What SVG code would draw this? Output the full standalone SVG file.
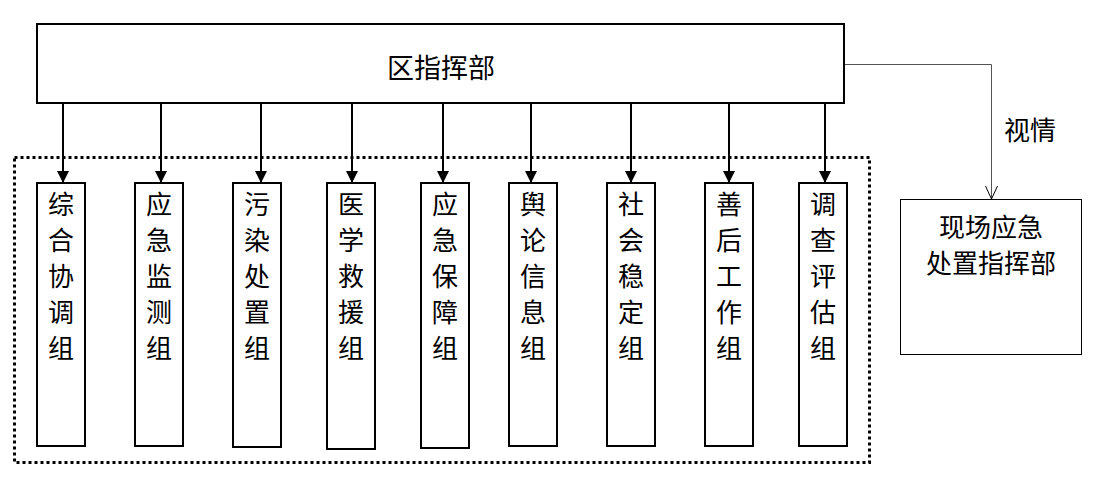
<svg xmlns="http://www.w3.org/2000/svg" width="1100" height="477" viewBox="0 0 1100 477">
<style>
.box{fill:#fff;stroke:#000;stroke-width:2}
.t{font-family:"Noto Sans CJK SC","Noto Sans",sans-serif;font-size:26px;fill:#000;text-anchor:middle}
.arr{stroke:#000;stroke-width:2;fill:none}
</style>
<defs>
<marker id="ah" markerWidth="12" markerHeight="12" refX="11" refY="6" orient="auto" markerUnits="userSpaceOnUse">
<path d="M0,0 L12,6 L0,12 Z" fill="#000"/>
</marker>
<marker id="oh" markerWidth="14" markerHeight="14" refX="13" refY="7" orient="auto" markerUnits="userSpaceOnUse">
<path d="M0,1 L13,7 L0,13" fill="none" stroke="#000" stroke-width="1"/>
</marker>
</defs>
<rect width="1100" height="477" fill="#fff"/>
<rect x="14.5" y="157.5" width="855" height="305" fill="none" stroke="#000" stroke-width="3" stroke-dasharray="3 3"/>
<g id="connectors">
<line class="arr" x1="63" y1="104" x2="63" y2="182" marker-end="url(#ah)"/>
<line class="arr" x1="161" y1="104" x2="161" y2="182" marker-end="url(#ah)"/>
<line class="arr" x1="261" y1="104" x2="261" y2="182" marker-end="url(#ah)"/>
<line class="arr" x1="352" y1="104" x2="352" y2="182" marker-end="url(#ah)"/>
<line class="arr" x1="443" y1="104" x2="443" y2="182" marker-end="url(#ah)"/>
<line class="arr" x1="531" y1="104" x2="531" y2="182" marker-end="url(#ah)"/>
<line class="arr" x1="631" y1="104" x2="631" y2="182" marker-end="url(#ah)"/>
<line class="arr" x1="729" y1="104" x2="729" y2="182" marker-end="url(#ah)"/>
<line class="arr" x1="825" y1="104" x2="825" y2="182" marker-end="url(#ah)"/>
<path d="M845,64.5 H991.5 V199" fill="none" stroke="#555" stroke-width="1" marker-end="url(#oh)"/>
<text class="t" x="1030" y="140">视情</text>
</g>
<g id="main">
<rect class="box" x="37" y="24" width="807" height="79"/>
<text class="t" x="441" y="78" style="font-size:27px">区指挥部</text>
</g>
<g id="n1"><rect class="box" x="37" y="183" width="48" height="263"/>
<text class="t"><tspan x="61" y="214">综</tspan><tspan x="61" dy="36">合</tspan><tspan x="61" dy="36">协</tspan><tspan x="61" dy="36">调</tspan><tspan x="61" dy="36">组</tspan></text></g>
<g id="n2"><rect class="box" x="135" y="183" width="48" height="263"/>
<text class="t"><tspan x="159" y="214">应</tspan><tspan x="159" dy="36">急</tspan><tspan x="159" dy="36">监</tspan><tspan x="159" dy="36">测</tspan><tspan x="159" dy="36">组</tspan></text></g>
<g id="n3"><rect class="box" x="233" y="183" width="48" height="264"/>
<text class="t"><tspan x="257" y="214">污</tspan><tspan x="257" dy="36">染</tspan><tspan x="257" dy="36">处</tspan><tspan x="257" dy="36">置</tspan><tspan x="257" dy="36">组</tspan></text></g>
<g id="n4"><rect class="box" x="327" y="183" width="48" height="266"/>
<text class="t"><tspan x="351" y="214">医</tspan><tspan x="351" dy="36">学</tspan><tspan x="351" dy="36">救</tspan><tspan x="351" dy="36">援</tspan><tspan x="351" dy="36">组</tspan></text></g>
<g id="n5"><rect class="box" x="421" y="183" width="48" height="265"/>
<text class="t"><tspan x="445" y="214">应</tspan><tspan x="445" dy="36">急</tspan><tspan x="445" dy="36">保</tspan><tspan x="445" dy="36">障</tspan><tspan x="445" dy="36">组</tspan></text></g>
<g id="n6"><rect class="box" x="509" y="183" width="48" height="263"/>
<text class="t"><tspan x="533" y="214">舆</tspan><tspan x="533" dy="36">论</tspan><tspan x="533" dy="36">信</tspan><tspan x="533" dy="36">息</tspan><tspan x="533" dy="36">组</tspan></text></g>
<g id="n7"><rect class="box" x="607" y="183" width="48" height="263"/>
<text class="t"><tspan x="631" y="214">社</tspan><tspan x="631" dy="36">会</tspan><tspan x="631" dy="36">稳</tspan><tspan x="631" dy="36">定</tspan><tspan x="631" dy="36">组</tspan></text></g>
<g id="n8"><rect class="box" x="705" y="183" width="48" height="263"/>
<text class="t"><tspan x="729" y="214">善</tspan><tspan x="729" dy="36">后</tspan><tspan x="729" dy="36">工</tspan><tspan x="729" dy="36">作</tspan><tspan x="729" dy="36">组</tspan></text></g>
<g id="n9"><rect class="box" x="799" y="183" width="48" height="263"/>
<text class="t"><tspan x="823" y="214">调</tspan><tspan x="823" dy="36">查</tspan><tspan x="823" dy="36">评</tspan><tspan x="823" dy="36">估</tspan><tspan x="823" dy="36">组</tspan></text></g>
<g id="site">
<rect x="900.5" y="199.5" width="181" height="155" fill="#fff" stroke="#000" stroke-width="1"/>
<text class="t"><tspan x="991" y="237">现场应急</tspan><tspan x="991" y="273">处置指挥部</tspan></text>
</g>
</svg>
